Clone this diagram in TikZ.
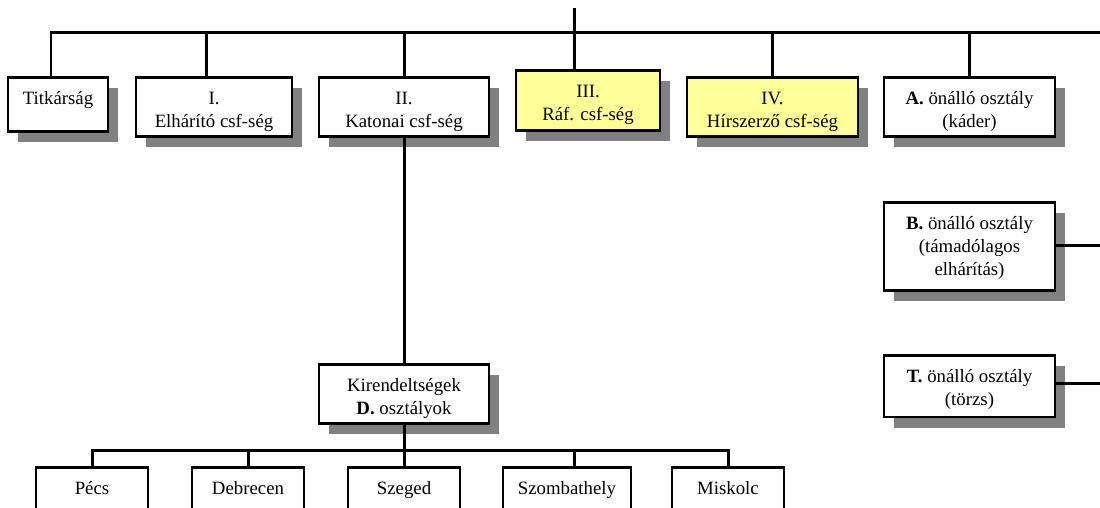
\documentclass[tikz,border=0pt]{standalone}
\usepackage{fontspec}
\setmainfont{Liberation Serif}
\usepackage{xcolor}
\usepackage{tikz}
\usetikzlibrary{shadows}
\definecolor{paleyellow}{HTML}{FFFF99}
\definecolor{shadowgray}{HTML}{808080}
\newcommand{\boxlines}[1]{\begin{tabular}[t]{@{}c@{}}#1\end{tabular}}
\tikzset{
    boxnode/.style = {inner sep=0pt, anchor=north, rectangle, draw=black, line width=1.35pt, fill=white,
        font=\fontsize{9.4}{11.6}\selectfont, text height=13.4pt},
    white_node/.style = {boxnode,
        drop shadow={shadow xshift=5pt, shadow yshift=-5.5pt, fill=shadowgray, opacity=1}},
    yellow_node/.style = {white_node, fill=paleyellow},
    cut_node/.style = {boxnode, minimum width=56pt, text depth=30pt},
    bus/.style = {line width=1.5pt, line cap=rect},
    thin_bus/.style = {line width=0.6pt}
}

\begin{document}
\begin{tikzpicture}[x=0.5pt, y=-0.5pt]
            \useasboundingbox (0,0) rectangle (1100,508);

            \node [white_node, minimum width=50pt, text depth=13.6pt] (tit) at (58,76) {\boxlines{Titkárság}};
            \node [white_node, minimum width=78pt, text depth=16.1pt] (elh) at (214,76) {\boxlines{I.\\Elhárító csf-ség}};
            \node [white_node, minimum width=85pt, text depth=16.1pt] (kat) at (404,76) {\boxlines{II.\\Katonai csf-ség}};
            \node [yellow_node, minimum width=72pt, text depth=16.6pt] (raf) at (588,69) {\boxlines{III.\\Ráf. csf-ség}};
            \node [yellow_node, minimum width=85.5pt, text depth=16.1pt] (hir) at (772.5,76) {\boxlines{IV.\\Hírszerző csf-ség}};
            \node [white_node, minimum width=85.5pt, text depth=16.1pt] (kad) at (969.5,76) {\boxlines{\textbf{A.} önálló osztály\\(káder)}};
            \node [white_node, minimum width=85.5pt, text depth=30.6pt] (tam) at (969.5,201) {\boxlines{\textbf{B.} önálló osztály\\(támadólagos\\elhárítás)}};
            \node [white_node, minimum width=85.5pt, text depth=17.4pt] (tor) at (969.5,354) {\boxlines{\textbf{T.} önálló osztály\\(törzs)}};
            \node [white_node, minimum width=85pt, text depth=16.1pt] (kir) at (404,363) {\boxlines{Kirendeltségek\\\textbf{D.} osztályok}};

            \node [cut_node] (pec) at (92,466) {Pécs};
            \node [cut_node] (deb) at (248,466) {Debrecen};
            \node [cut_node] (sze) at (404,466) {Szeged};
            \node [cut_node, minimum width=64pt] (szo) at (567,466) {Szombathely};
            \node [cut_node] (mis) at (728,466) {Miskolc};

            \coordinate (root) at (574,10);
            \coordinate (bus_left) at (51,33);
            \coordinate (bus_right) at (1100,33);
            \draw [bus] (bus_left) -- (bus_right);
            \draw [bus] (root) -- (root |- raf.north);
            \draw [thin_bus] (bus_left) -- (bus_left |- tit.north);
            \foreach \n/\x in {elh/206, kat/404, hir/772, kad/969} {
                \coordinate (tap_\n) at (\x,33);
                \draw [bus] (tap_\n) -- (tap_\n |- \n.north);
            }

            \coordinate (b_end) at (1100,245.5);
            \coordinate (t_end) at (1100,384);
            \draw [bus] (tam.east |- b_end) -- (b_end);
            \draw [bus] (tor.east |- t_end) -- (t_end);

            \draw [bus] (kat.south) -- (kir.north);
            \coordinate (sub_bus) at (404,451);
            \draw [bus] (kir.south) -- (sub_bus);
            \draw [bus] (pec.north) -- (pec.north |- sub_bus) -- (mis.north |- sub_bus) -- (mis.north);
            \coordinate (tap_szo) at (574,451);
            \draw [bus] (tap_szo) -- (tap_szo |- szo.north);
            \foreach \n in {deb, sze}
                \draw [bus] (\n.north |- sub_bus) -- (\n.north);
\end{tikzpicture}
\end{document}
